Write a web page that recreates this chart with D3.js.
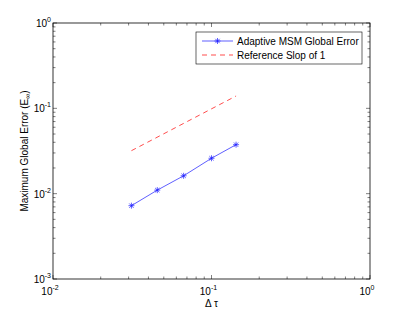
<!DOCTYPE html>
<html>
<head>
<meta charset="utf-8">
<script src="https://cdn.jsdelivr.net/npm/d3@7"></script>
<style>
body { margin: 0; background: #fff; }
text { font-family: "Liberation Sans", Arial, sans-serif; fill: #000; }
</style>
</head>
<body>
<svg id="chart"></svg>
<script>
// data
const stepSizes = [0.03125, 0.0455, 0.0667, 0.1, 0.1429];
const globalError = [0.00723, 0.0110, 0.0162, 0.0260, 0.0375];
const refX = [0.03125, 0.1429];
const refY = [0.0319, 0.1395];
const xTickExp = [-2, -1, 0];
const yTickExp = [-3, -2, -1, 0];
const legendLabels = ["Adaptive MSM Global Error", "Reference Slop of 1"];

const W = 409, H = 315;
const margin = {top: 23, right: 39, bottom: 36, left: 53},
    width = W - margin.left - margin.right,
    height = H - margin.top - margin.bottom;

const svg = d3.select("#chart")
    .attr("width", W)
    .attr("height", H);
const g = svg.append("g")
    .attr("transform", `translate(${margin.left}, ${margin.top})`);

const x = d3.scaleLog().domain([1e-2, 1]).range([0, width]);
const y = d3.scaleLog().domain([1e-3, 1]).range([height, 0]);

// minor + major tick positions
function logTicks(lo, hi) {
    let out = [];
    for (let e = lo; e < hi; e++)
        for (let m = 1; m < 10; m++) out.push(m * Math.pow(10, e));
    out.push(Math.pow(10, hi));
    return out;
}
const xt = logTicks(-2, 0), yt = logTicks(-3, 0);
const isMajor = v => Math.abs(Math.log10(v) - Math.round(Math.log10(v))) < 1e-9;

const ticks = g.append("g").attr("stroke", "#000").attr("stroke-width", 0.5);
xt.forEach(v => {
    const len = isMajor(v) ? 4 : 2.5;
    ticks.append("line").attr("x1", x(v)).attr("x2", x(v)).attr("y1", height).attr("y2", height - len);
    ticks.append("line").attr("x1", x(v)).attr("x2", x(v)).attr("y1", 0).attr("y2", len);
});
yt.forEach(v => {
    const len = isMajor(v) ? 4 : 2.5;
    ticks.append("line").attr("y1", y(v)).attr("y2", y(v)).attr("x1", 0).attr("x2", len);
    ticks.append("line").attr("y1", y(v)).attr("y2", y(v)).attr("x1", width).attr("x2", width - len);
});

// axes box
g.append("rect")
    .attr("width", width).attr("height", height)
    .attr("fill", "none").attr("stroke", "#000").attr("stroke-width", 0.8);

// tick labels 10^e
function powLabel(sel, e) {
    sel.append("tspan").text("10").attr("font-size", 10);
    sel.append("tspan").text(e).attr("font-size", 7).attr("dy", -5);
}
xTickExp.forEach(e => {
    const t = g.append("text")
        .attr("x", x(Math.pow(10, e)) - 3)
        .attr("y", height + 16)
        .attr("text-anchor", "middle");
    powLabel(t, e);
});
yTickExp.forEach(e => {
    const t = g.append("text")
        .attr("x", -2)
        .attr("y", y(Math.pow(10, e)) + 4)
        .attr("text-anchor", "end");
    powLabel(t, e);
});

// axis labels
g.append("text")
    .attr("x", width / 2).attr("y", height + 28)
    .attr("text-anchor", "middle").attr("font-size", 10)
    .text("\u0394 \u03c4");
const yl = g.append("text")
    .attr("transform", `translate(${-25}, ${height / 2}) rotate(-90)`)
    .attr("text-anchor", "middle").attr("font-size", 10);
yl.append("tspan").text("Maximum Global Error (E");
yl.append("tspan").text("\u221e").attr("font-size", 7).attr("dy", 2);
yl.append("tspan").text(")").attr("dy", -2);

// reference slope
const line = d3.line().x(d => x(d[0])).y(d => y(d[1]));
g.append("path")
    .datum(refX.map((v, i) => [v, refY[i]]))
    .attr("d", line)
    .attr("fill", "none").attr("stroke", "#ff0000")
    .attr("stroke-width", 0.7).attr("stroke-dasharray", "5,4");

// error series
const blue = "#1a1aff";
g.append("path")
    .datum(stepSizes.map((v, i) => [v, globalError[i]]))
    .attr("d", line)
    .attr("fill", "none").attr("stroke", blue).attr("stroke-width", 0.7);

function asterisk(sel, cx, cy, r) {
    const a = sel.append("g").attr("stroke", blue).attr("stroke-width", 0.7);
    a.append("line").attr("x1", cx - r).attr("x2", cx + r).attr("y1", cy).attr("y2", cy);
    a.append("line").attr("x1", cx).attr("x2", cx).attr("y1", cy - r).attr("y2", cy + r);
    const d = r * 0.72;
    a.append("line").attr("x1", cx - d).attr("x2", cx + d).attr("y1", cy - d).attr("y2", cy + d);
    a.append("line").attr("x1", cx - d).attr("x2", cx + d).attr("y1", cy + d).attr("y2", cy - d);
}
stepSizes.forEach((v, i) => asterisk(g, x(v), y(globalError[i]), 3));

// legend
const lg = svg.append("g").attr("transform", "translate(196, 32)");
lg.append("rect")
    .attr("width", 166).attr("height", 32)
    .attr("fill", "#fff").attr("stroke", "#000").attr("stroke-width", 0.6);
lg.append("line").attr("x1", 6).attr("x2", 37).attr("y1", 9).attr("y2", 9)
    .attr("stroke", blue).attr("stroke-width", 0.7);
asterisk(lg, 21.5, 9, 3);
lg.append("line").attr("x1", 6).attr("x2", 37).attr("y1", 23).attr("y2", 23)
    .attr("stroke", "#ff0000").attr("stroke-width", 0.7).attr("stroke-dasharray", "5,4");
legendLabels.forEach((s, i) => {
    lg.append("text").attr("x", 41).attr("y", 12.5 + i * 14)
        .attr("font-size", 10).text(s);
});
</script>
</body>
</html>
